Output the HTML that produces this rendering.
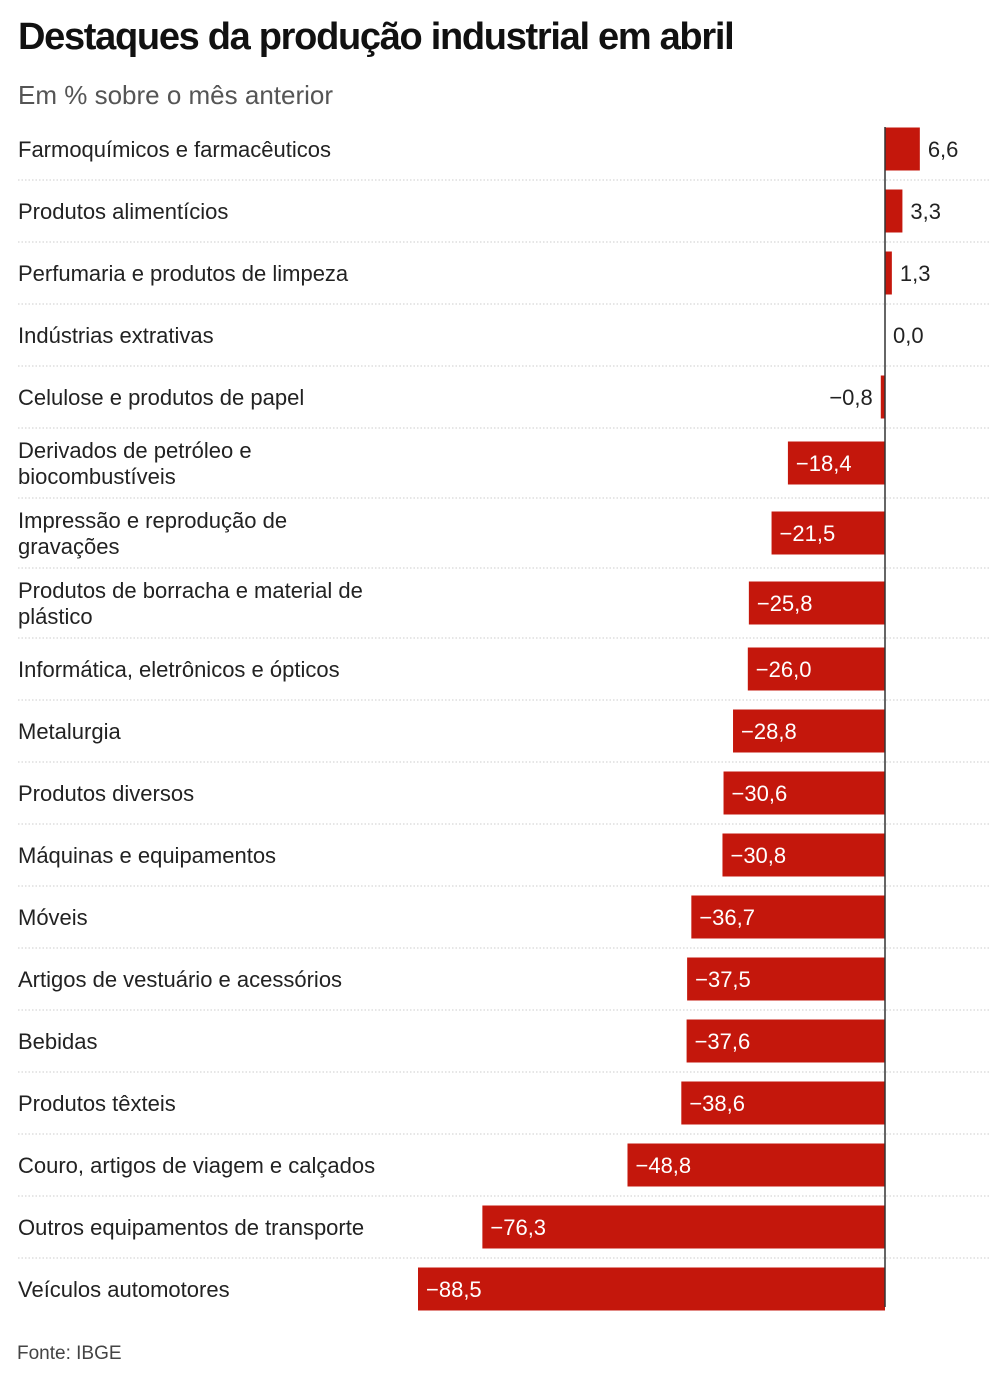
<!DOCTYPE html>
<html><head><meta charset="utf-8"><style>
body{margin:0;background:#fff;width:1008px;height:1384px;overflow:hidden;font-family:"Liberation Sans",sans-serif;position:relative}
#title{position:absolute;left:18px;top:16px;font-size:38px;font-weight:bold;letter-spacing:-1.3px;color:#111;margin:0}
#sub{position:absolute;left:18px;top:80px;font-size:26px;color:#555}
#src{position:absolute;left:17px;top:1343px;font-size:19px;color:#444}
</style></head><body>
<h1 id="title">Destaques da produção industrial em abril</h1>
<div id="sub">Em % sobre o mês anterior</div>
<svg id="chart" width="1008" height="1384" style="position:absolute;left:0;top:0"></svg>
<div id="src">Fonte: IBGE</div>
<script>
const categories=["Farmoquímicos e farmacêuticos","Produtos alimentícios","Perfumaria e produtos de limpeza","Indústrias extrativas","Celulose e produtos de papel","Derivados de petróleo e|biocombustíveis","Impressão e reprodução de|gravações","Produtos de borracha e material de|plástico","Informática, eletrônicos e ópticos","Metalurgia","Produtos diversos","Máquinas e equipamentos","Móveis","Artigos de vestuário e acessórios","Bebidas","Produtos têxteis","Couro, artigos de viagem e calçados","Outros equipamentos de transporte","Veículos automotores"];
const values=[6.6,3.3,1.3,0.0,-0.8,-18.4,-21.5,-25.8,-26.0,-28.8,-30.6,-30.8,-36.7,-37.5,-37.6,-38.6,-48.8,-76.3,-88.5];
const NS="http://www.w3.org/2000/svg";
const svg=document.getElementById('chart');
const x0=885,k=467/88.5;
const xs=v=>x0+v*k;
const fmt=v=>(v<0?"−":"")+Math.abs(v).toFixed(1).replace('.',',');
function mk(t,a){const e=document.createElementNS(NS,t);for(const n in a)e.setAttribute(n,a[n]);svg.appendChild(e);return e;}
let y=118;
const rows=[];
categories.forEach((c,i)=>{const two=c.includes('|');const h=two?70:62;rows.push([y,h]);y+=h;});
rows.forEach(([top,h],i)=>{
  const v=values[i],cy=top+h/2;
  const lines=categories[i].split('|');
  const t=mk('text',{x:18,y:lines.length>1?cy-5:cy+8,'font-size':22,fill:'#222'});
  
  
  lines.forEach((l,j)=>{const s=document.createElementNS(NS,'tspan');s.setAttribute('x',18);if(j)s.setAttribute('dy',26);s.textContent=l;t.appendChild(s);});
  if(i<rows.length-1){const ln=mk('line',{x1:18,x2:990,y1:top+h,y2:top+h,stroke:'#ccc','stroke-dasharray':'1.5,2'});
  
  }
  const xa=Math.min(xs(v),x0),w=Math.abs(xs(v)-x0);
  const b=mk('rect',{x:xa,y:cy-21.5,width:w,height:43,fill:'#c4170c'});
  
  
  let lx,anchor='start',fill='#222';
  if(v>=0){lx=xs(v)+8;}else if(w>60){lx=xs(v)+8;fill='#fff';}else{lx=xs(v)-8;anchor='end';}
  const vl=mk('text',{x:lx,y:cy+8,'font-size':22,fill:fill,'text-anchor':anchor});
  
  
  vl.textContent=fmt(v);
});
const z=mk('line',{x1:x0,x2:x0,y1:127,y2:1307,stroke:'#333','stroke-width':1.5});


</script>
</body></html>
